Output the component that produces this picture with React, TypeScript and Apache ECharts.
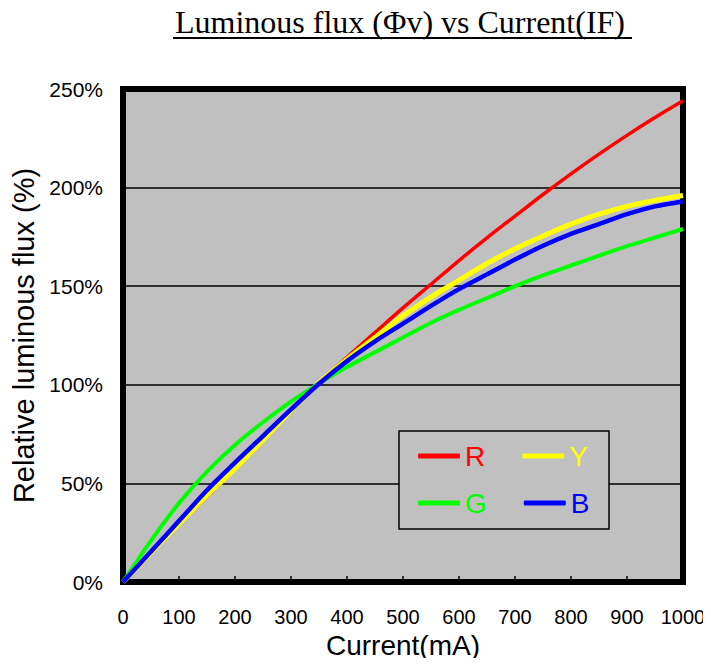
import React, { useEffect, useRef } from "react";
import * as echarts from "echarts";

const currents = [0, 50, 100, 150, 200, 250, 300, 350, 400, 450, 500, 550, 600, 650, 700, 750, 800, 850, 900, 950, 1000];
const redVals = [0, 15, 29.5, 43.5, 57.5, 72, 87, 101, 114, 126.5, 139, 151, 163, 174.5, 185.5, 196.5, 207, 217, 226.5, 235.5, 244];
const yellowVals = [0, 15, 29.5, 44, 57.5, 72, 87, 101, 113, 124, 135, 144.5, 153, 161.5, 169, 175.5, 181.5, 186.5, 190.5, 193.5, 196];
const greenVals = [0, 21, 40, 56, 69.5, 81, 91.5, 100.7, 109, 116.5, 124, 131.5, 138, 144, 150, 155.5, 160.5, 165.5, 170.3, 174.7, 179];
const blueVals = [0, 15.5, 31, 46.5, 60.5, 74, 87.5, 100.5, 112, 122, 131, 140, 148.5, 156, 163.5, 170.5, 176.5, 181.5, 186.5, 190.5, 193];

const xTicks = { min: 0, max: 1000, interval: 100 };
const yTicks = { min: 0, max: 250, interval: 50 };

const seriesDefs = [
  { name: "R", color: "#ff0000", values: redVals, width: 3.5 },
  { name: "Y", color: "#ffff00", values: yellowVals, width: 5 },
  { name: "G", color: "#00ff00", values: greenVals, width: 4 },
  { name: "B", color: "#0000ff", values: blueVals, width: 4.5 },
];

const SANS = "'Liberation Sans', Arial, sans-serif";
const SERIF = "'Liberation Serif', 'Times New Roman', serif";

export default function App() {
  const ref = useRef<HTMLDivElement>(null);
  useEffect(() => {
    if (!ref.current) return;
    const chart = echarts.init(ref.current, null, { renderer: "svg" });
    const legendItem = (name: string, color: string) => ({
      name,
      textStyle: { color },
    });
    const legendCommon = {
      orient: "horizontal",
      icon: "roundRect",
      itemWidth: 42,
      itemHeight: 5,
      itemGap: 37,
      padding: 0,
      left: 418,
      selectedMode: false,
      textStyle: { fontFamily: SANS, fontSize: 28 },
      z: 10,
    };
    chart.setOption({
      animation: false,
      backgroundColor: "#ffffff",
      grid: {
        left: 123,
        right: 28,
        top: 89,
        bottom: 84,
        show: true,
        backgroundColor: "#c0c0c0",
        borderColor: "#000000",
        borderWidth: 6,
        z: 0,
      },
      legend: [
        {
          ...legendCommon,
          top: 442,
          data: [legendItem("R", "#ff0000"), legendItem("Y", "#ffff00")],
        },
        {
          ...legendCommon,
          top: 489,
          data: [legendItem("G", "#00ff00"), legendItem("B", "#0000ff")],
        },
      ],
      graphic: [
        {
          type: "text",
          x: 400,
          y: 22,
          style: {
            text: "Luminous flux (Φv) vs Current(IF)",
            font: `32px ${SERIF}`,
            fill: "#000",
            align: "center",
            verticalAlign: "middle",
          },
        },
        {
          type: "line",
          shape: { x1: 173, y1: 38, x2: 632, y2: 38 },
          style: { stroke: "#000", lineWidth: 2 },
        },
        {
          type: "rect",
          shape: { x: 399, y: 431, width: 210, height: 98 },
          style: { fill: "#c0c0c0", stroke: "#000", lineWidth: 1.5 },
          z: 5,
        },
      ],
      xAxis: {
        type: "value",
        ...xTicks,
        name: "Current(mA)",
        nameLocation: "middle",
        nameGap: 48,
        nameTextStyle: { fontFamily: SANS, fontSize: 28, color: "#000" },
        axisLine: { show: false },
        axisTick: { show: true, inside: true, length: 6, lineStyle: { color: "#000", width: 1.5 } },
        axisLabel: {
          fontFamily: SANS,
          fontSize: 20,
          color: "#000",
          margin: 25,
          formatter: (v: number) => String(v),
        },
        splitLine: { show: false },
      },
      yAxis: {
        type: "value",
        ...yTicks,
        name: "Relative luminous flux (%)",
        nameLocation: "middle",
        nameGap: 78,
        nameTextStyle: { fontFamily: SANS, fontSize: 29, color: "#000" },
        axisLine: { show: false },
        axisTick: { show: false },
        axisLabel: { fontFamily: SANS, fontSize: 21, color: "#000", margin: 20, formatter: "{value}%" },
        splitLine: { show: true, lineStyle: { color: "#000", width: 1.5 } },
      },
      series: seriesDefs.map((s, i) => ({
        name: s.name,
        type: "line",
        smooth: 0.3,
        showSymbol: false,
        symbol: "none",
        color: s.color,
        lineStyle: { color: s.color, width: s.width },
        data: currents.map((c, j) => [c, s.values[j]]),
        z: 2 + i,
      })),
    });
    return () => chart.dispose();
  }, []);
  return <div ref={ref} style={{ width: 711, height: 666, margin: -8 }} />;
}
